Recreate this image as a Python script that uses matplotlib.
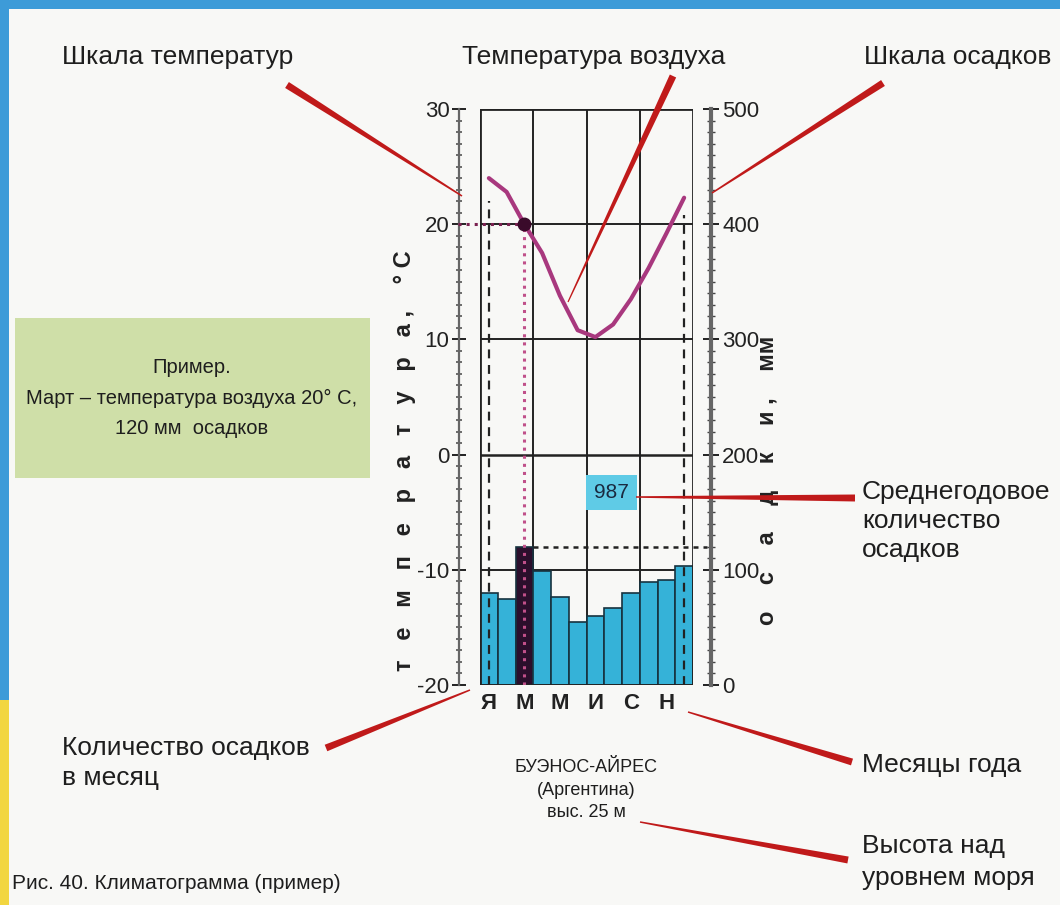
import numpy as np
import matplotlib
matplotlib.use('Agg')
import matplotlib.pyplot as plt
from matplotlib.patches import Polygon, Rectangle

plt.rcParams['font.family'] = ['Liberation Sans', 'DejaVu Sans']
plt.rcParams['axes.unicode_minus'] = False

# --- данные климатограммы (Буэнос-Айрес) ---
month_pos = np.arange(12) + 0.5
temperature = [24.0, 22.8, 20.0, 17.5, 13.8, 10.8, 10.2, 11.3, 13.5, 16.2, 19.2, 22.3]
precipitation = [80, 75, 120, 99, 76, 55, 60, 67, 80, 89, 91, 103]
month_letters = ['Я', 'М', 'М', 'И', 'С', 'Н']
annual_total = 987
example_month = 2          # март
season_edges = [3, 6, 9]

W, H = 1060, 905
fig = plt.figure(figsize=(W / 100, H / 100), dpi=100)
fig.patch.set_facecolor('#f8f8f6')

# фон: рамка и зеленая плашка
bg = fig.add_axes([0, 0, 1, 1], zorder=0)
bg.set_xlim(0, W); bg.set_ylim(H, 0); bg.axis('off')
bg.add_patch(Rectangle((0, 0), W, 9, fc='#3d9bd8', ec='none'))
bg.add_patch(Rectangle((0, 0), 9, 700, fc='#3d9bd8', ec='none'))
bg.add_patch(Rectangle((0, 700), 9, 205, fc='#f2d640', ec='none'))
bg.add_patch(Rectangle((15, 318), 355, 160, fc='#cfdfa8', ec='none'))

# основная область графика
ax = fig.add_axes([480 / W, 1 - 685 / H, 213 / W, 576 / H], zorder=3)
ax.patch.set_alpha(0)
ax2 = ax.twinx()
ax2.set_zorder(2)
ax2.patch.set_alpha(0)

ax.set_xlim(0, 12)
ax.set_ylim(-20, 30)
ax2.set_ylim(0, 500)

# столбики осадков
colors = ['#35b2d8'] * 12
colors[example_month] = '#2b0f2c'
ax2.bar(month_pos, precipitation, width=1.0, color=colors, edgecolor='#17323f',
        linewidth=1.2, zorder=2)

# сетка
for t in [20, 10, 0, -10]:
    ax2.axhline((t + 20) * 10, color='#222222', lw=1.8 if t == 0 else 1.4, zorder=1)
for e in season_edges:
    ax2.axvline(e, color='#222222', lw=1.4, zorder=1)
ax.add_patch(Rectangle((0, 0), 1, 1, transform=ax.transAxes, fill=False,
                       ec='#222222', lw=2, zorder=5))

# пунктиры амплитуды
ax.vlines([month_pos[0], month_pos[-1]], -20,
          [temperature[0] - 2, temperature[-1] - 1.5],
          colors='#222222', linestyles=(0, (4, 3)), lw=1.6, zorder=4)

# пример: март
mx, mt = month_pos[example_month], temperature[example_month]
ax.plot([-1.25, mx], [mt, mt], color='#7a2050', ls=':', lw=2.2, clip_on=False, zorder=6)
ax.plot([mx, mx], [-20, mt], color='#c0508a', ls=':', lw=2.2, zorder=6)
ax2.plot([mx + 0.5, 12.8], [precipitation[example_month]] * 2, color='#222222',
         ls=(0, (2, 2)), lw=1.8, clip_on=False, zorder=3)

# температура воздуха
ax.plot(month_pos, temperature, color='#a8387e', lw=3, solid_joinstyle='round',
        solid_capstyle='round', zorder=7)
ax.plot(mx, mt, 'o', color='#3a0a2a', ms=9, zorder=8)

ax.text(7.4, -3.3, str(annual_total), fontsize=15, color='#1a2a40', ha='center',
        va='center', zorder=9,
        bbox=dict(boxstyle='square,pad=0.4', fc='#5fcbe6', ec='none'))

# шкалы
for s in ['top', 'bottom', 'right']:
    ax.spines[s].set_visible(False)
ax.spines['left'].set_position(('outward', 15))
ax.spines['left'].set_color('#666666')
ax.spines['left'].set_linewidth(1.6)
ax.set_yticks([30, 20, 10, 0, -10, -20])
ax.set_yticks(np.arange(-20, 31, 1), minor=True)
ax.tick_params(axis='y', which='major', direction='inout', length=10, width=1.4,
               labelsize=16, pad=2, colors='#222222')
ax.tick_params(axis='y', which='minor', direction='inout', length=4, width=1.2,
               colors='#555555')
ax.set_xticks(month_pos[::2])
ax.set_xticklabels(month_letters, fontsize=16, fontweight='bold', color='#222222')
ax.tick_params(axis='x', length=0, pad=6)

for s in ['top', 'bottom', 'left']:
    ax2.spines[s].set_visible(False)
ax2.spines['right'].set_position(('outward', 13))
ax2.spines['right'].set_color('#666666')
ax2.spines['right'].set_linewidth(3)
ax2.set_yticks(np.arange(0, 501, 100))
ax2.set_yticks(np.arange(0, 501, 10), minor=True)
ax2.tick_params(axis='y', which='major', direction='inout', length=12, width=1.4,
                labelsize=16, pad=2, colors='#222222')
ax2.tick_params(axis='y', which='minor', direction='inout', length=6, width=1,
                colors='#444444')

ax.set_ylabel('т   е   м   п   е   р   а   т   у   р   а ,    ° С', fontsize=17,
              fontweight='bold', color='#222222')
ax.yaxis.set_label_coords(-0.30, 0.39)
ax2.set_ylabel('о    с    а    д    к    и ,    мм', fontsize=17, fontweight='bold',
               color='#222222', rotation=90)
ax2.yaxis.set_label_coords(1.295, 0.355)

# подписи и выноски
fg = fig.add_axes([0, 0, 1, 1], zorder=10)
fg.set_xlim(0, W); fg.set_ylim(H, 0); fg.axis('off')
fg.patch.set_alpha(0)

red = '#c01a1a'


def callout(x0, y0, x1, y1, w0=7.0, w1=1.5):
    dx, dy = x1 - x0, y1 - y0
    L = np.hypot(dx, dy)
    nx, ny = -dy / L, dx / L
    pts = [(x0 + nx * w0 / 2, y0 + ny * w0 / 2), (x1 + nx * w1 / 2, y1 + ny * w1 / 2),
           (x1 - nx * w1 / 2, y1 - ny * w1 / 2), (x0 - nx * w0 / 2, y0 - ny * w0 / 2)]
    fg.add_patch(Polygon(pts, closed=True, fc=red, ec='none'))


tk = dict(color='#1e1e1e', fontsize=19, va='center')
fg.text(62, 57, 'Шкала температур', **tk)
fg.text(462, 57, 'Температура воздуха', **tk)
fg.text(864, 57, 'Шкала осадков', **tk)
fg.text(862, 521, 'Среднегодовое\nколичество\nосадков', linespacing=1.25, **tk)
fg.text(62, 763, 'Количество осадков\nв месяц', linespacing=1.35, **tk)
fg.text(862, 765, 'Месяцы года', **tk)
fg.text(862, 862, 'Высота над\nуровнем моря', linespacing=1.45, **tk)
fg.text(586, 790, 'БУЭНОС-АЙРЕС\n(Аргентина)\nвыс. 25 м', ha='center', va='center',
        color='#1e1e1e', fontsize=13, linespacing=1.45)
fg.text(12, 883, 'Рис. 40. Климатограмма (пример)', color='#1e1e1e', fontsize=15,
        va='center')
fg.text(192, 398, 'Пример.\nМарт – температура воздуха 20° С,\n120 мм  осадков',
        ha='center', va='center', color='#1e1e1e', fontsize=14.5, linespacing=1.75)

callout(287, 85, 462, 196)
callout(673, 76, 568, 302, 7, 1.2)
callout(883, 83, 712, 193)
callout(855, 498, 636, 497)
callout(326, 748, 470, 690)
callout(852, 762, 688, 712)
callout(848, 860, 640, 822)

fig.savefig('out.png', dpi=100, facecolor=fig.get_facecolor())
